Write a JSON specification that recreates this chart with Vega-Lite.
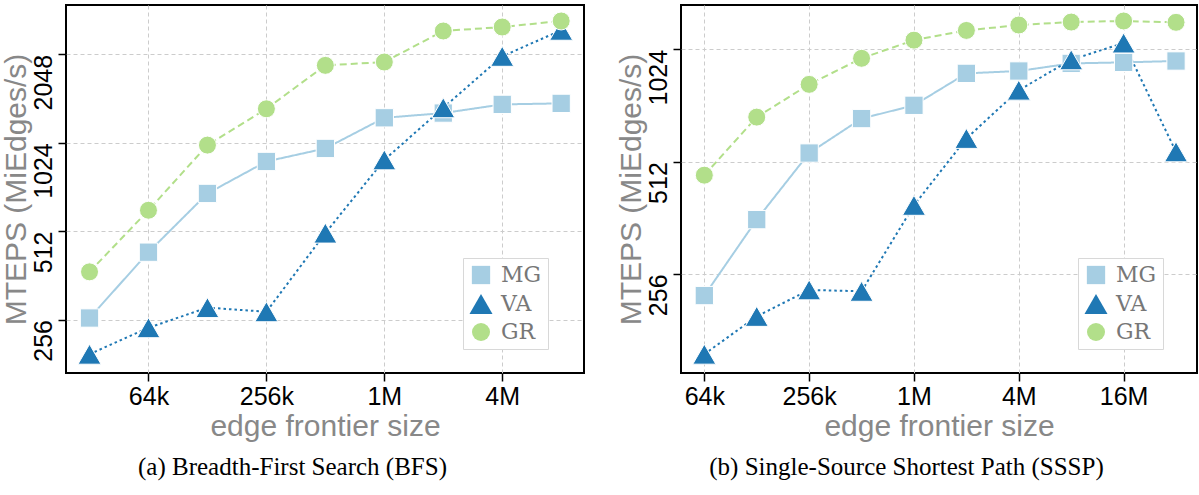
{
  "$schema": "https://vega.github.io/schema/vega-lite/v6.json",
  "background": "white",
  "padding": {"left": 0, "top": 4, "right": 2, "bottom": 5},
  "spacing": 30,
  "data": {"values": [
    {"panel": "BFS", "series": "MG", "size": 32768, "mteps": 259},
    {"panel": "BFS", "series": "MG", "size": 65536, "mteps": 434},
    {"panel": "BFS", "series": "MG", "size": 131072, "mteps": 688},
    {"panel": "BFS", "series": "MG", "size": 262144, "mteps": 884},
    {"panel": "BFS", "series": "MG", "size": 524288, "mteps": 979},
    {"panel": "BFS", "series": "MG", "size": 1048576, "mteps": 1245},
    {"panel": "BFS", "series": "MG", "size": 2097152, "mteps": 1292},
    {"panel": "BFS", "series": "MG", "size": 4194304, "mteps": 1383},
    {"panel": "BFS", "series": "MG", "size": 8388608, "mteps": 1394},
    {"panel": "BFS", "series": "VA", "size": 32768, "mteps": 195},
    {"panel": "BFS", "series": "VA", "size": 65536, "mteps": 240},
    {"panel": "BFS", "series": "VA", "size": 131072, "mteps": 281},
    {"panel": "BFS", "series": "VA", "size": 262144, "mteps": 272},
    {"panel": "BFS", "series": "VA", "size": 524288, "mteps": 504},
    {"panel": "BFS", "series": "VA", "size": 1048576, "mteps": 895},
    {"panel": "BFS", "series": "VA", "size": 2097152, "mteps": 1347},
    {"panel": "BFS", "series": "VA", "size": 4194304, "mteps": 2016},
    {"panel": "BFS", "series": "VA", "size": 8388608, "mteps": 2473},
    {"panel": "BFS", "series": "GR", "size": 32768, "mteps": 372},
    {"panel": "BFS", "series": "GR", "size": 65536, "mteps": 603},
    {"panel": "BFS", "series": "GR", "size": 131072, "mteps": 1005},
    {"panel": "BFS", "series": "GR", "size": 262144, "mteps": 1336},
    {"panel": "BFS", "series": "GR", "size": 524288, "mteps": 1878},
    {"panel": "BFS", "series": "GR", "size": 1048576, "mteps": 1928},
    {"panel": "BFS", "series": "GR", "size": 2097152, "mteps": 2459},
    {"panel": "BFS", "series": "GR", "size": 4194304, "mteps": 2537},
    {"panel": "BFS", "series": "GR", "size": 8388608, "mteps": 2660},
    {"panel": "SSSP", "series": "MG", "size": 65536, "mteps": 224},
    {"panel": "SSSP", "series": "MG", "size": 131072, "mteps": 358},
    {"panel": "SSSP", "series": "MG", "size": 262144, "mteps": 540},
    {"panel": "SSSP", "series": "MG", "size": 524288, "mteps": 668},
    {"panel": "SSSP", "series": "MG", "size": 1048576, "mteps": 725},
    {"panel": "SSSP", "series": "MG", "size": 2097152, "mteps": 883},
    {"panel": "SSSP", "series": "MG", "size": 4194304, "mteps": 896},
    {"panel": "SSSP", "series": "MG", "size": 8388608, "mteps": 939},
    {"panel": "SSSP", "series": "MG", "size": 16777216, "mteps": 945},
    {"panel": "SSSP", "series": "MG", "size": 33554432, "mteps": 953},
    {"panel": "SSSP", "series": "VA", "size": 65536, "mteps": 156},
    {"panel": "SSSP", "series": "VA", "size": 131072, "mteps": 197},
    {"panel": "SSSP", "series": "VA", "size": 262144, "mteps": 232},
    {"panel": "SSSP", "series": "VA", "size": 524288, "mteps": 230},
    {"panel": "SSSP", "series": "VA", "size": 1048576, "mteps": 391},
    {"panel": "SSSP", "series": "VA", "size": 2097152, "mteps": 591},
    {"panel": "SSSP", "series": "VA", "size": 4194304, "mteps": 796},
    {"panel": "SSSP", "series": "VA", "size": 8388608, "mteps": 960},
    {"panel": "SSSP", "series": "VA", "size": 16777216, "mteps": 1065},
    {"panel": "SSSP", "series": "VA", "size": 33554432, "mteps": 544},
    {"panel": "SSSP", "series": "GR", "size": 65536, "mteps": 471},
    {"panel": "SSSP", "series": "GR", "size": 131072, "mteps": 674},
    {"panel": "SSSP", "series": "GR", "size": 262144, "mteps": 825},
    {"panel": "SSSP", "series": "GR", "size": 524288, "mteps": 969},
    {"panel": "SSSP", "series": "GR", "size": 1048576, "mteps": 1084},
    {"panel": "SSSP", "series": "GR", "size": 2097152, "mteps": 1151},
    {"panel": "SSSP", "series": "GR", "size": 4194304, "mteps": 1190},
    {"panel": "SSSP", "series": "GR", "size": 8388608, "mteps": 1212},
    {"panel": "SSSP", "series": "GR", "size": 16777216, "mteps": 1220},
    {"panel": "SSSP", "series": "GR", "size": 33554432, "mteps": 1210}
  ]},
  "resolve": {
    "scale": {"x": "independent", "y": "independent", "color": "independent", "shape": "independent", "strokeDash": "independent", "size": "independent"},
    "legend": {"color": "independent", "shape": "independent"}
  },
  "config": {
    "view": {"stroke": "black", "strokeWidth": 2},
    "axis": {
      "domain": false,
      "grid": true,
      "gridColor": "#cccccc",
      "gridDash": [4, 3],
      "gridWidth": 1,
      "tickColor": "black",
      "tickSize": 8,
      "tickWidth": 1.5,
      "labelFont": "Liberation Sans",
      "labelFontSize": 25,
      "labelColor": "black",
      "titleFont": "Liberation Sans",
      "titleFontSize": 30,
      "titleColor": "#888888",
      "titleFontWeight": "normal"
    },
    "legend": {
      "orient": "none",
      "legendX": 397,
      "legendY": 253,
      "labelFont": "DejaVu Serif",
      "labelFontSize": 22,
      "labelColor": "#777777",
      "labelOffset": 8,
      "symbolSize": 380,
      "symbolOpacity": 1,
      "symbolStrokeWidth": 0,
      "rowPadding": 6,
      "padding": 6,
      "fillColor": "white",
      "strokeColor": "#d8d8d8"
    },
    "title": {
      "font": "Liberation Serif",
      "fontSize": 25,
      "fontWeight": "normal",
      "color": "black"
    }
  },
  "hconcat": [
    {
      "width": 518,
      "height": 368,
      "title": {"text": "(a) Breadth-First Search (BFS)", "orient": "bottom", "anchor": "middle", "frame": "bounds", "offset": 14},
      "transform": [{"filter": "datum.panel == 'BFS'"}],
      "encoding": {
        "x": {"field": "size", "type": "quantitative",
              "scale": {"type": "log", "base": 2, "domain": [24850, 10969000], "nice": false},
              "axis": {"values": [65536, 262144, 1048576, 4194304],
                       "labelExpr": "datum.value >= 1048576 ? (datum.value / 1048576) + 'M' : (datum.value / 1024) + 'k'",
                       "title": "edge frontier size", "labelPadding": 3, "titlePadding": 2}},
        "y": {"field": "mteps", "type": "quantitative",
              "scale": {"type": "log", "base": 2, "domain": [168.3, 3015], "nice": false},
              "axis": {"values": [256, 512, 1024, 2048], "format": "d", "labelAngle": -90, "labelAlign": "right", "labelBaseline": "bottom", "labelPadding": 2,
                       "title": "MTEPS (MiEdges/s)", "titlePadding": 0}},
        "color": {"field": "series", "type": "nominal", "scale": {"domain": ["MG", "VA", "GR"], "range": ["#a6cee3", "#1f78b4", "#b2df8a"]}, "legend": {"title": null}}
      },
      "layer": [
        {"mark": {"type": "line", "strokeWidth": 2},
         "encoding": {
           "strokeDash": {"field": "series", "type": "nominal", "scale": {"domain": ["MG", "VA", "GR"], "range": [[1, 0], [2.5, 3], [7, 4]]}, "legend": null}
         }},
        {"mark": {"type": "point", "filled": true, "opacity": 1, "stroke": "white", "strokeWidth": 1},
         "encoding": {
           "shape": {"field": "series", "type": "nominal", "scale": {"domain": ["MG", "VA", "GR"], "range": ["square", "triangle-up", "circle"]}, "legend": {"title": null}},
           "size": {"field": "series", "type": "nominal", "scale": {"type": "ordinal", "domain": ["MG", "VA", "GR"], "range": [335, 530, 324]}, "legend": null}
         }}
      ]
    },
    {
      "width": 516,
      "height": 368,
      "title": {"text": "(b) Single-Source Shortest Path (SSSP)", "orient": "bottom", "anchor": "middle", "frame": "bounds", "offset": 14},
      "transform": [{"filter": "datum.panel == 'SSSP'"}],
      "encoding": {
        "x": {"field": "size", "type": "quantitative",
              "scale": {"type": "log", "base": 2, "domain": [48143, 44275000], "nice": false},
              "axis": {"values": [65536, 262144, 1048576, 4194304, 16777216],
                       "labelExpr": "datum.value >= 1048576 ? (datum.value / 1048576) + 'M' : (datum.value / 1024) + 'k'",
                       "title": "edge frontier size", "labelPadding": 3, "titlePadding": 2}},
        "y": {"field": "mteps", "type": "quantitative",
              "scale": {"type": "log", "base": 2, "domain": [138.9, 1346.6], "nice": false},
              "axis": {"values": [256, 512, 1024], "format": "d", "labelAngle": -90, "labelAlign": "right", "labelBaseline": "bottom", "labelPadding": 2,
                       "title": "MTEPS (MiEdges/s)", "titlePadding": 0}},
        "color": {"field": "series", "type": "nominal", "scale": {"domain": ["MG", "VA", "GR"], "range": ["#a6cee3", "#1f78b4", "#b2df8a"]}, "legend": {"title": null}}
      },
      "layer": [
        {"mark": {"type": "line", "strokeWidth": 2},
         "encoding": {
           "strokeDash": {"field": "series", "type": "nominal", "scale": {"domain": ["MG", "VA", "GR"], "range": [[1, 0], [2.5, 3], [7, 4]]}, "legend": null}
         }},
        {"mark": {"type": "point", "filled": true, "opacity": 1, "stroke": "white", "strokeWidth": 1},
         "encoding": {
           "shape": {"field": "series", "type": "nominal", "scale": {"domain": ["MG", "VA", "GR"], "range": ["square", "triangle-up", "circle"]}, "legend": {"title": null}},
           "size": {"field": "series", "type": "nominal", "scale": {"type": "ordinal", "domain": ["MG", "VA", "GR"], "range": [335, 530, 324]}, "legend": null}
         }}
      ]
    }
  ]
}
